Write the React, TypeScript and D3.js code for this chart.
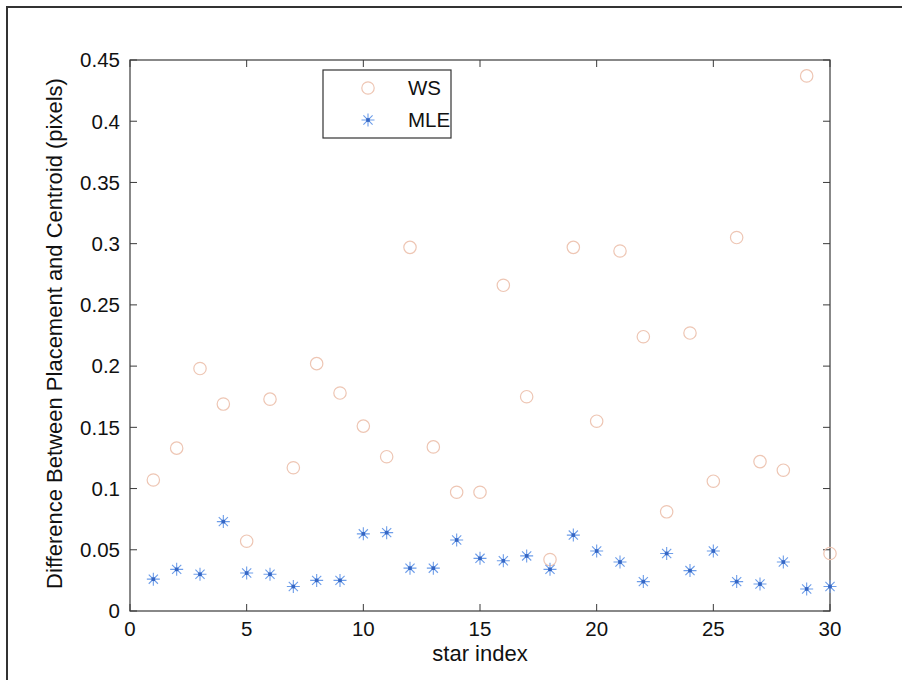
import React from "react";
import * as d3 from "d3";

const starIndex = d3.range(1, 31);
const wsValues = [
  0.107, 0.133, 0.198, 0.169, 0.057, 0.173, 0.117, 0.202, 0.178, 0.151,
  0.126, 0.297, 0.134, 0.097, 0.097, 0.266, 0.175, 0.042, 0.297, 0.155,
  0.294, 0.224, 0.081, 0.227, 0.106, 0.305, 0.122, 0.115, 0.437, 0.047,
];
const mleValues = [
  0.026, 0.034, 0.030, 0.073, 0.031, 0.030, 0.020, 0.025, 0.025, 0.063,
  0.064, 0.035, 0.035, 0.058, 0.043, 0.041, 0.045, 0.034, 0.062, 0.049,
  0.040, 0.024, 0.047, 0.033, 0.049, 0.024, 0.022, 0.040, 0.018, 0.020,
];
const xTicks = [0, 5, 10, 15, 20, 25, 30];
const yTicks = [0, 0.05, 0.1, 0.15, 0.2, 0.25, 0.3, 0.35, 0.4, 0.45];
const seriesNames = ["WS", "MLE"];

const W = 902;
const H = 680;
const plot = { left: 130, right: 830, top: 60, bottom: 611 };
const FONT = "'Liberation Sans', Arial, Helvetica, sans-serif";
const WS_COLOR = "#eec6b4";
const MLE_COLOR = "#6d9de9";
const MLE_CENTER = "#3566c4";
const AXIS = "#3a3a3a";

function asteriskPath(cx: number, cy: number, r: number) {
  const d = r * 0.7071;
  return (
    `M${cx - r},${cy}L${cx + r},${cy}` +
    `M${cx},${cy - r}L${cx},${cy + r}` +
    `M${cx - d},${cy - d}L${cx + d},${cy + d}` +
    `M${cx - d},${cy + d}L${cx + d},${cy - d}`
  );
}

export default function App() {
  const x = d3.scaleLinear().domain([0, 30]).range([plot.left, plot.right]);
  const y = d3.scaleLinear().domain([0, 0.45]).range([plot.bottom, plot.top]);
  const tickLen = 7;

  return (
    <svg
      width={W}
      height={H}
      style={{ position: "absolute", left: 0, top: 0, background: "#fff" }}
      fontFamily={FONT}
    >
      <rect x={0} y={0} width={W} height={H} fill="#fff" />
      {/* outer frame */}
      <path d={`M7,${H}L7,7L${W},7`} fill="none" stroke="#333" strokeWidth={2} />

      {/* plot box */}
      <rect
        x={plot.left}
        y={plot.top}
        width={plot.right - plot.left}
        height={plot.bottom - plot.top}
        fill="none"
        stroke={AXIS}
        strokeWidth={1.2}
      />

      {/* x ticks */}
      {xTicks.map((t) => (
        <g key={"xt" + t}>
          <line x1={x(t)} x2={x(t)} y1={plot.bottom} y2={plot.bottom - tickLen} stroke={AXIS} />
          <line x1={x(t)} x2={x(t)} y1={plot.top} y2={plot.top + tickLen} stroke={AXIS} />
          <text x={x(t)} y={plot.bottom + 25} textAnchor="middle" fontSize={20.5} fill="#111">
            {String(t)}
          </text>
        </g>
      ))}

      {/* y ticks */}
      {yTicks.map((t) => (
        <g key={"yt" + t}>
          <line x1={plot.left} x2={plot.left + tickLen} y1={y(t)} y2={y(t)} stroke={AXIS} />
          <line x1={plot.right} x2={plot.right - tickLen} y1={y(t)} y2={y(t)} stroke={AXIS} />
          <text x={plot.left - 10} y={y(t)} dy="0.36em" textAnchor="end" fontSize={20.5} fill="#111">
            {d3.format("~g")(t)}
          </text>
        </g>
      ))}

      {/* axis labels */}
      <text x={(plot.left + plot.right) / 2} y={661} textAnchor="middle" fontSize={22} fill="#111">
        star index
      </text>
      <text
        transform={`translate(62,${(plot.top + plot.bottom) / 2 - 2}) rotate(-90)`}
        textAnchor="middle"
        fontSize={22}
        fill="#111"
      >
        Difference Between Placement and Centroid (pixels)
      </text>

      {/* WS circles */}
      {starIndex.map((s, i) => (
        <circle
          key={"ws" + s}
          cx={x(s)}
          cy={y(wsValues[i])}
          r={6.2}
          fill="none"
          stroke={WS_COLOR}
          strokeWidth={1.2}
        />
      ))}

      {/* MLE asterisks */}
      {starIndex.map((s, i) => (
        <g key={"mle" + s}>
          <path d={asteriskPath(x(s), y(mleValues[i]), 6.5)} stroke={MLE_COLOR} strokeWidth={1.1} fill="none" />
          <rect x={x(s) - 1.8} y={y(mleValues[i]) - 1.8} width={3.6} height={3.6} fill={MLE_CENTER} />
        </g>
      ))}

      {/* legend */}
      <rect x={323} y={70} width={128} height={68} fill="#fff" stroke="#333" strokeWidth={1.2} />
      <circle cx={368} cy={88} r={6.2} fill="none" stroke={WS_COLOR} strokeWidth={1.2} />
      <text x={408} y={95} fontSize={20.5} fill="#111">{seriesNames[0]}</text>
      <path d={asteriskPath(368, 120, 6.5)} stroke={MLE_COLOR} strokeWidth={1.1} fill="none" />
      <rect x={366.2} y={118.2} width={3.6} height={3.6} fill={MLE_CENTER} />
      <text x={408} y={127} fontSize={20.5} fill="#111">{seriesNames[1]}</text>
    </svg>
  );
}
